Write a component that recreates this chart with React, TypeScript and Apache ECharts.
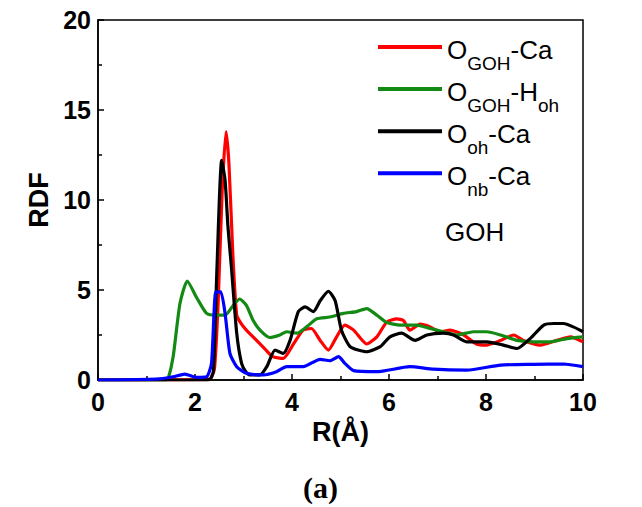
import React, { useEffect, useRef } from "react";
import * as echarts from "echarts";

const seriesNames = ["OGOH-Ca", "OGOH-Hoh", "Ooh-Ca", "Onb-Ca"];
const legendRich: Record<string, string> = {
  "OGOH-Ca": "{m|O}{s|GOH}{m|-Ca}",
  "OGOH-Hoh": "{m|O}{s|GOH}{m|-H}{s|oh}",
  "Ooh-Ca": "{m|O}{s|oh}{m|-Ca}",
  "Onb-Ca": "{m|O}{s|nb}{m|-Ca}",
};
const colors = ["#ff0000", "#138a13", "#000000", "#0000ff"];

const redR = [0, 1.0, 2.0, 2.3, 2.4, 2.48, 2.56, 2.64, 2.7, 2.78, 2.86, 2.96, 3.06, 3.27, 3.45, 3.6, 3.82, 4.03, 4.23, 4.4, 4.58, 4.75, 4.92, 5.09, 5.27, 5.54, 5.75, 5.95, 6.16, 6.3, 6.43, 6.64, 6.85, 7.05, 7.26, 7.54, 7.8, 8.02, 8.3, 8.57, 8.77, 9.12, 9.46, 9.74, 10];
const redG = [0, 0, 0.02, 0.05, 0.6, 4.5, 10.5, 13.8, 12.0, 7.0, 3.6, 3.1, 2.77, 2.2, 1.7, 1.3, 1.2, 2.0, 2.77, 2.86, 2.2, 1.66, 2.4, 3.05, 2.77, 2.0, 2.4, 3.2, 3.4, 3.3, 2.77, 3.1, 2.95, 2.68, 2.77, 2.5, 2.0, 1.94, 2.2, 2.5, 2.2, 1.94, 2.2, 2.4, 2.12];

const greenR = [0, 1.4, 1.45, 1.55, 1.69, 1.84, 2.03, 2.24, 2.44, 2.62, 2.79, 2.92, 3.06, 3.2, 3.34, 3.54, 3.75, 3.89, 4.1, 4.3, 4.51, 4.78, 5.06, 5.33, 5.54, 5.75, 5.95, 6.23, 6.57, 6.85, 7.12, 7.4, 7.74, 8.02, 8.3, 8.64, 8.98, 9.33, 9.67, 10];
const greenG = [0, 0, 0.1, 1.3, 4.25, 5.5, 4.6, 3.7, 3.6, 3.6, 4.15, 4.5, 4.15, 3.3, 2.77, 2.36, 2.5, 2.68, 2.6, 2.95, 3.4, 3.5, 3.7, 3.8, 3.97, 3.6, 3.2, 3.05, 3.05, 2.86, 2.68, 2.5, 2.68, 2.68, 2.5, 2.2, 2.12, 2.12, 2.3, 2.4];

const blackR = [0, 2.0, 2.3, 2.38, 2.45, 2.55, 2.62, 2.68, 2.75, 2.86, 2.96, 3.05, 3.13, 3.34, 3.48, 3.65, 3.82, 3.96, 4.13, 4.27, 4.44, 4.58, 4.75, 4.89, 5.02, 5.2, 5.54, 5.82, 6.02, 6.26, 6.54, 6.78, 7.12, 7.33, 7.6, 8.02, 8.36, 8.64, 8.91, 9.19, 9.4, 9.6, 9.8, 10];
const blackG = [0, 0, 0.02, 0.5, 6.0, 12.2, 11.1, 8.5, 6.3, 2.6, 0.92, 0.45, 0.28, 0.28, 0.74, 1.66, 1.48, 2.2, 3.8, 4.06, 3.8, 4.4, 4.93, 4.4, 2.77, 1.85, 1.57, 1.85, 2.4, 2.6, 2.2, 2.5, 2.6, 2.5, 2.12, 2.12, 1.94, 1.75, 2.3, 3.05, 3.14, 3.14, 2.95, 2.68];

const blueR = [0, 1.2, 1.55, 1.79, 2.03, 2.24, 2.34, 2.43, 2.53, 2.62, 2.72, 2.86, 3.06, 3.41, 3.68, 3.89, 4.23, 4.58, 4.78, 4.96, 5.09, 5.27, 5.75, 6.43, 6.92, 7.6, 8.3, 8.98, 9.6, 10];
const blueG = [0, 0.05, 0.18, 0.33, 0.15, 0.18, 0.92, 4.9, 4.9, 3.7, 1.48, 0.74, 0.37, 0.28, 0.46, 0.74, 0.74, 1.15, 1.07, 1.3, 0.92, 0.52, 0.46, 0.74, 0.6, 0.55, 0.83, 0.87, 0.89, 0.74];

const xTicks = { min: 0, max: 10, interval: 2 };
const yTicks = { min: 0, max: 20, interval: 5 };

const zip = (a: number[], b: number[]) => a.map((x, i) => [x, b[i]]);

export default function App() {
  const ref = useRef<HTMLDivElement>(null);
  useEffect(() => {
    if (!ref.current) return;
    const chart = echarts.init(ref.current, undefined, { renderer: "svg" });
    const seriesData = [zip(redR, redG), zip(greenR, greenG), zip(blackR, blackG), zip(blueR, blueG)];
    const tickFont = { fontFamily: "Liberation Sans, Arial", fontWeight: "bold" as const, fontSize: 25, color: "#000" };
    const ff = "Liberation Sans, Arial";
    chart.setOption({
      animation: false,
      backgroundColor: "#fff",
      grid: { left: 98, right: 59, top: 20, bottom: 127, show: true, borderColor: "#000", borderWidth: 1.5, backgroundColor: "transparent" },
      legend: {
        orient: "vertical",
        left: 373,
        top: 28,
        itemWidth: 64,
        itemHeight: 4,
        itemGap: 2.1,
        icon: "rect",
        selectedMode: false,
        data: seriesNames,
        formatter: (name: string) => legendRich[name],
        textStyle: {
          color: "#000",
          fontFamily: ff,
          rich: {
            m: { fontSize: 26, lineHeight: 28, padding: [4, 0, 0, 0], verticalAlign: "top", color: "#000", fontFamily: ff },
            s: { fontSize: 19, lineHeight: 18, padding: [21, 0, 0, 0], verticalAlign: "top", color: "#000", fontFamily: ff },
          },
        },
      },
      xAxis: {
        type: "value",
        ...xTicks,
        name: "R(Å)",
        nameLocation: "middle",
        nameGap: 31,
        nameTextStyle: { ...tickFont, fontSize: 27 },
        axisLine: { show: true, lineStyle: { color: "#000", width: 1.5 } },
        axisTick: { show: true, inside: true, length: 6, lineStyle: { color: "#000", width: 1.5 } },
        minorTick: { show: true, splitNumber: 2, length: 4, lineStyle: { color: "#000", width: 1.5 } },
        splitLine: { show: false },
        axisLabel: { ...tickFont, margin: 9 },
      },
      yAxis: {
        type: "value",
        ...yTicks,
        name: "RDF",
        nameLocation: "middle",
        nameGap: 38,
        nameTextStyle: { ...tickFont, fontSize: 27 },
        axisLine: { show: true, lineStyle: { color: "#000", width: 1.5 } },
        axisTick: { show: true, inside: true, length: 6, lineStyle: { color: "#000", width: 1.5 } },
        minorTick: { show: true, splitNumber: 2, length: 4, lineStyle: { color: "#000", width: 1.5 } },
        splitLine: { show: false },
        axisLabel: { ...tickFont, margin: 7 },
      },
      series: seriesNames.map((n, i) => ({
        name: n,
        type: "line",
        data: seriesData[i],
        showSymbol: false,
        symbol: "none",
        smooth: 0.2,
        lineStyle: { color: colors[i], width: 3.2 },
        itemStyle: { color: colors[i] },
      })),
      graphic: [
        { type: "text", left: 445, top: 219, style: { text: "GOH", fontSize: 26, fontFamily: ff, fill: "#000" } },
        { type: "text", left: 303, top: 472, style: { text: "(a)", fontSize: 30, fontWeight: "bold", fontFamily: "Liberation Serif, Times New Roman", fill: "#000" } },
      ],
    });
    return () => chart.dispose();
  }, []);
  return <div ref={ref} style={{ position: "fixed", left: 0, top: 0, width: 642, height: 507, background: "#fff" }} />;
}
